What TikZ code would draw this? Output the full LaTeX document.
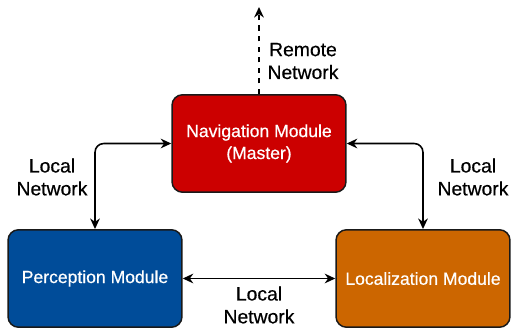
\documentclass[tikz,border=0pt]{standalone}
\usepackage{fontspec}
\setmainfont{Liberation Sans}
\newfontfamily\medfont{Liberation Sans}[FakeBold=0.5]
\usepackage{tikz}
\usetikzlibrary{arrows.meta,positioning,calc}
\usepackage{xcolor}
\definecolor{navred}{HTML}{CC0000}
\definecolor{percblue}{HTML}{004C99}
\definecolor{locorange}{HTML}{CC6600}

\begin{document}
\begin{tikzpicture}[x=0.02cm,y=-0.02cm,
        module/.style={draw=black!90,line width=0.85pt,rounded corners=6pt,
                       minimum width=3.48cm,minimum height=1.95cm,
                       text=white,align=center,font=\medfont\fontsize{10}{12.5}\selectfont},
        netlabel/.style={align=center,font=\medfont\fontsize{11}{13}\selectfont,inner sep=0pt},
        link/.style={line width=0.9pt,rounded corners=5pt,
                     {Stealth[length=6pt,width=5.5pt]}-{Stealth[length=6pt,width=5.5pt]}}]
      \useasboundingbox (0,0) rectangle (512,328);
      % modules
      \node[module,fill=navred] (nav) at (259,143.5) {Navigation Module\\(Master)};
      \node[module,fill=percblue] (perc) at (95,278.5) {Perception Module};
      \node[module,fill=locorange] (loc) at (423,278.5) {Localization Module};
      % remote link
      \coordinate (remote) at (259,7);
      \draw[line width=0.9pt,dashed,-{Stealth[length=6pt,width=5.5pt]}] (nav.north) -- (remote);
      \node[netlabel] (remlbl) at (303,61) {Remote\\Network};
      % local links
      \draw[link] (nav.west) -| (perc.north);
      \draw[link] (nav.east) -| (loc.north);
      \draw[link] (perc.east) -- (loc.west);
      \node[netlabel] (leftlbl) at (52,177) {Local\\Network};
      \node[netlabel] (rightlbl) at (473,177) {Local\\Network};
      \node[netlabel] (botlbl) at (259,305) {Local\\Network};
    \end{tikzpicture}
\end{document}
